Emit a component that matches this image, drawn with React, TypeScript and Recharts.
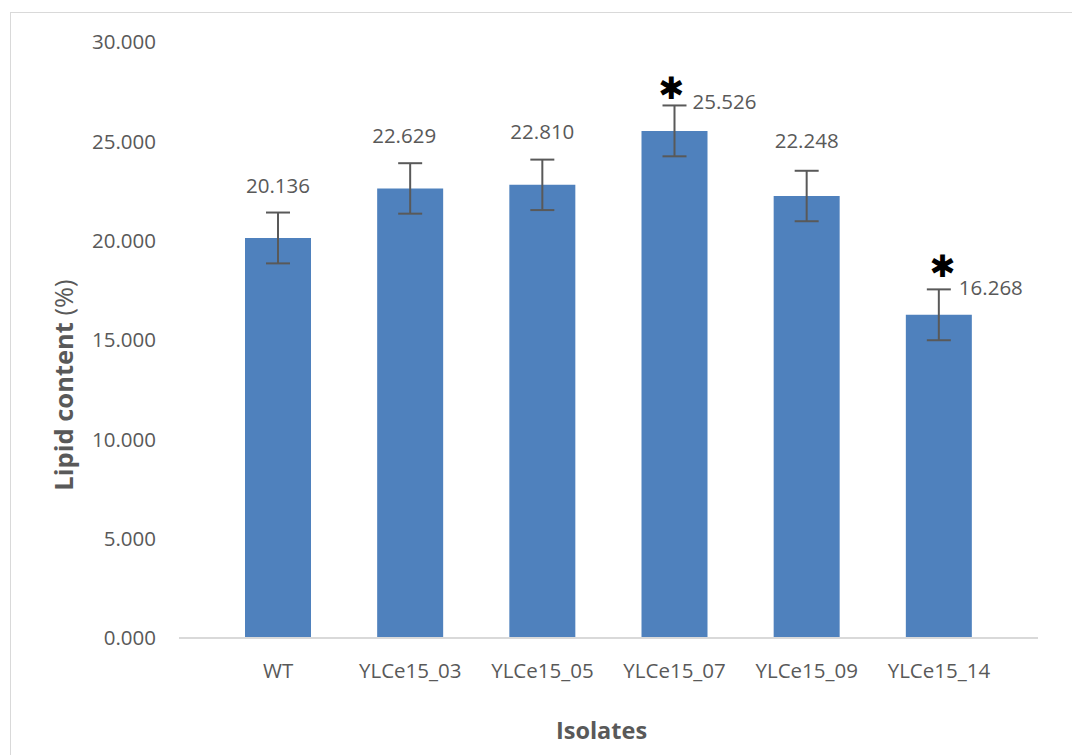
import React from 'react';
import { BarChart, Bar, XAxis, YAxis, ErrorBar, LabelList } from 'recharts';

const ISOLATES = ['WT', 'YLCe15_03', 'YLCe15_05', 'YLCe15_07', 'YLCe15_09', 'YLCe15_14'];
const LIPID = [20.136, 22.629, 22.81, 25.526, 22.248, 16.268];
const LIPID_SD = [1.28, 1.27, 1.27, 1.28, 1.27, 1.28];
const SIGNIFICANT = [false, false, false, true, false, true];
const Y_TICKS = [0, 5, 10, 15, 20, 25, 30];

// label offsets from bar top (two labels were dragged aside in the original)
const LABEL_DX = [0, -6, 0, 50, 0, 52];
const LABEL_DY = [-53, -53, -54, -30, -56, -28];
const STAR_DX = [0, 0, 0, -3, 0, 4];
const STAR_DY = [0, 0, 0, -40, 0, -46];

const data = ISOLATES.map((name, i) => ({ name, lipid: LIPID[i], sd: LIPID_SD[i] }));

const FONT = "'Open Sans', sans-serif";
const TEXT = '#595959';
const BAR_BLUE = '#4f81bd';

const renderValueLabel = (props: any) => {
  const { x, y, width, value, index } = props;
  const cx = x + width / 2;
  return (
    <g>
      <text
        x={cx + LABEL_DX[index]}
        y={y + LABEL_DY[index]}
        textAnchor="middle"
        dominantBaseline="central"
        fill={TEXT}
        fontSize={20.5}
        fontFamily={FONT}
      >
        {Number(value).toFixed(3)}
      </text>
      {SIGNIFICANT[index] && (
        <text
          x={cx + STAR_DX[index]}
          y={y + STAR_DY[index] - 3}
          textAnchor="middle"
          dominantBaseline="central"
          fill="#000"
          fontSize={31}
          fontFamily="'DejaVu Sans', sans-serif"
        >
          ✱
        </text>
      )}
    </g>
  );
};

const YTitle = (props: any) => {
  const { viewBox } = props;
  const x = viewBox.x + 63;
  const y = viewBox.y + viewBox.height / 2 + 45;
  return (
    <text
      x={x}
      y={y}
      transform={`rotate(-90, ${x}, ${y})`}
      textAnchor="middle"
      dominantBaseline="central"
      fill={TEXT}
      fontSize={25.5}
      fontFamily={FONT}
    >
      <tspan fontWeight="bold">Lipid content </tspan>
      <tspan>(%)</tspan>
    </text>
  );
};

const XTitle = (props: any) => {
  const { viewBox } = props;
  return (
    <text
      x={viewBox.x + viewBox.width / 2 - 7}
      y={viewBox.y + 92}
      textAnchor="middle"
      dominantBaseline="central"
      fill={TEXT}
      fontSize={23.5}
      fontWeight="bold"
      fontFamily={FONT}
    >
      Isolates
    </text>
  );
};

export default function App() {
  return (
    <div style={{ position: 'absolute', left: 0, top: 0, width: 1072, height: 755, overflow: 'hidden', background: '#fff' }}>
      <div style={{ position: 'absolute', left: 10, top: 12, width: 1200, height: 900, border: '1px solid #d9d9d9' }} />
      <div style={{ position: 'absolute', left: 0, top: 0 }}>
        <BarChart
          width={1072}
          height={755}
          data={data}
          margin={{ top: 42, right: 34, left: 0, bottom: 0 }}
          barSize={66}
        >
          <XAxis
            dataKey="name"
            height={117}
            padding={{ left: 33, right: 33 }}
            axisLine={{ stroke: '#d9d9d9', strokeWidth: 2 }}
            tickLine={false}
            tickSize={0}
            tickMargin={25}
            interval={0}
            tick={{ fill: TEXT, fontSize: 20.5, fontFamily: FONT }}
            label={<XTitle />}
          />
          <YAxis
            width={179}
            domain={[0, 30]}
            ticks={Y_TICKS}
            axisLine={false}
            tickLine={false}
            tickSize={0}
            tickMargin={23}
            tickFormatter={(v: number) => v.toFixed(3)}
            tick={{ fill: TEXT, fontSize: 20.5, fontFamily: FONT }}
            label={<YTitle />}
          />
          <Bar dataKey="lipid" fill={BAR_BLUE} isAnimationActive={false}>
            <ErrorBar dataKey="sd" direction="y" width={12} stroke="#595959" strokeWidth={2} isAnimationActive={false} />
            <LabelList dataKey="lipid" content={renderValueLabel} />
          </Bar>
        </BarChart>
      </div>
    </div>
  );
}
